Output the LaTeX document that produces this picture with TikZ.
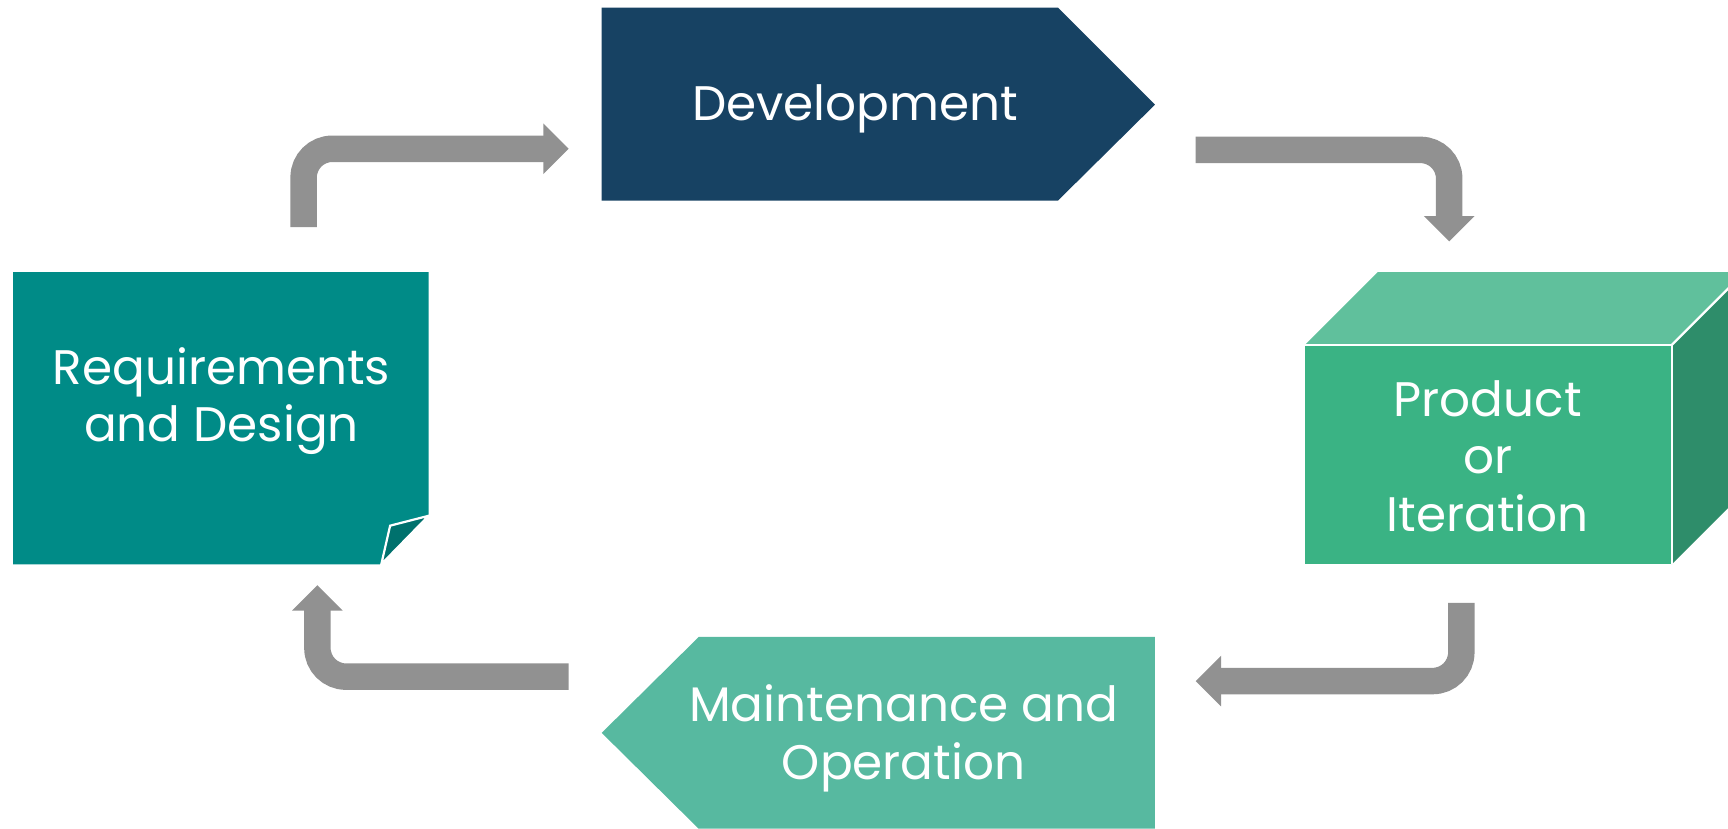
\documentclass[tikz,border=0pt]{standalone}
\usepackage{fontspec}
\setmainfont{Poppins}
\definecolor{navy}{HTML}{174263}
\definecolor{reqteal}{HTML}{008B87}
\definecolor{reqfold}{HTML}{00716D}
\definecolor{cubetop}{HTML}{60C09C}
\definecolor{cubefront}{HTML}{3AB384}
\definecolor{cubeside}{HTML}{2E8D6A}
\definecolor{maint}{HTML}{57B9A0}
\definecolor{arrowgray}{HTML}{919191}
\begin{document}
\begin{tikzpicture}[x=1pt,y=-1pt,
  lbl/.style={text=white,font=\fontsize{44}{52}\selectfont,align=center,inner sep=0pt},
  flow/.style={draw=arrowgray,line width=24pt,rounded corners=26pt},
  tiphead/.style={fill=arrowgray},
  edge/.style={draw=white,line width=2pt}]
\useasboundingbox (0,0) rectangle (1568,752);
\clip (0,0) rectangle (1568,752);
% Development
\fill[navy] (546,7) -- (960,7) -- (1048,95) -- (960,182) -- (546,182) -- cycle;
\node[lbl] (dev) at (776,99) {Development};
% Requirements and Design
\fill[reqteal] (12,247) -- (389,247) -- (389,468) -- (346,512) -- (12,512) -- cycle;
\filldraw[fill=reqfold,edge] (389,468) -- (354,477) -- (346,512) -- cycle;
\node[lbl] (req) at (201,364) {Requirements\\and Design};
% Product cube
\fill[cubefront] (1184,313) rectangle (1517,512);
\fill[cubetop] (1184,313) -- (1250,247) -- (1583,247) -- (1517,313) -- cycle;
\fill[cubeside] (1517,313) -- (1583,247) -- (1583,446) -- (1517,512) -- cycle;
\draw[edge] (1184,313) -- (1517,313) -- (1517,512);
\draw[edge] (1517,313) -- (1583,247);
\node[lbl] (prod) at (1350,414) {Product\\or\\Iteration};
% Maintenance
\fill[maint] (546,665) -- (634,578) -- (1048,578) -- (1048,752) -- (634,752) -- cycle;
\node[lbl] (maint) at (820,670) {Maintenance and\\Operation};
% connectors
\coordinate (a1s) at (275.5,206);
\coordinate (a1e) at (516,135);
\coordinate (a2s) at (1085,136);
\coordinate (a2e) at (1315,219);
\coordinate (a3s) at (1326,547);
\coordinate (a3e) at (1085,618);
\coordinate (a4s) at (516,614);
\coordinate (a4e) at (288,531);
% 1: up then right
\draw[flow] (a1s) |- ([xshift=-22pt]a1e);
\fill[tiphead] (a1e) -- ([xshift=-23pt,yshift=-23pt]a1e) -- ([xshift=-23pt,yshift=23pt]a1e) -- cycle;
% 2: right then down
\draw[flow] (a2s) -| ([yshift=22pt]a2e);
\fill[tiphead] (a2e) -- ([xshift=-23pt,yshift=23pt]a2e) -- ([xshift=23pt,yshift=23pt]a2e) -- cycle;
% 3: down then left
\draw[flow] (a3s) |- ([xshift=22pt]a3e);
\fill[tiphead] (a3e) -- ([xshift=23pt,yshift=-23pt]a3e) -- ([xshift=23pt,yshift=23pt]a3e) -- cycle;
% 4: left then up
\draw[flow] (a4s) -| ([yshift=-22pt]a4e);
\fill[tiphead] (a4e) -- ([xshift=-23pt,yshift=-23pt]a4e) -- ([xshift=23pt,yshift=-23pt]a4e) -- cycle;
\end{tikzpicture}
\end{document}
